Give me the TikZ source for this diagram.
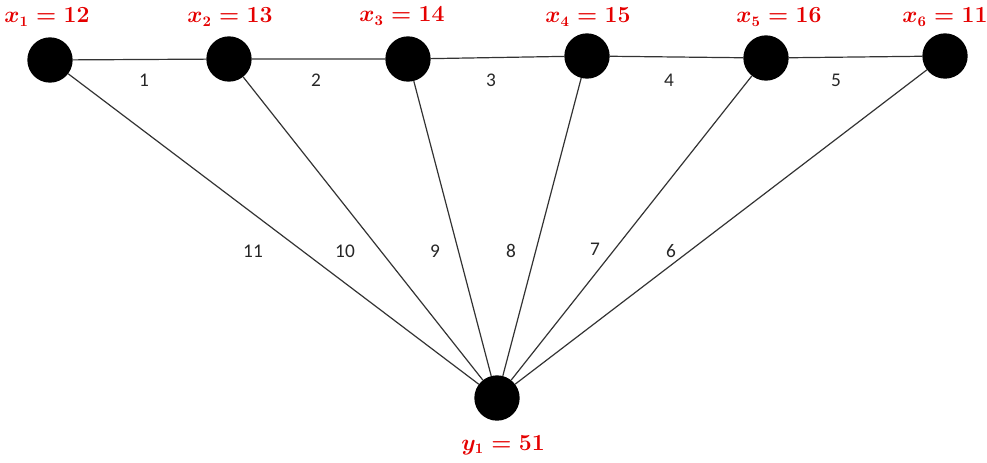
\documentclass[tikz,border=0pt]{standalone}
\usepackage{fontspec}
\newfontfamily\edgefont{Carlito}
\usetikzlibrary{positioning}

\begin{document}
\begin{tikzpicture}[x=0.75pt,y=-0.75pt,line cap=round,line join=round,
    vert/.style={circle,fill=black,inner sep=0pt,minimum size=34pt},
    vlabel/.style={text=red!90!black,font=\fontsize{16}{18}\selectfont\boldmath},
    elabel/.style={text=black!85,font=\edgefont\fontsize{14.5}{16}\selectfont},
    edge/.style={draw=black!80,line width=0.9pt}]
  \useasboundingbox (0,0) rectangle (987,462);
  % vertices
  \node[vert] (x1) at (50,60) {};
  \node[vert] (x2) at (229,59) {};
  \node[vert] (x3) at (408,59) {};
  \node[vert] (x4) at (587,56) {};
  \node[vert] (x5) at (766,58) {};
  \node[vert] (x6) at (945,56) {};
  \node[vert] (y1) at (497,398) {};
  % vertex labels
  \node[vlabel] (lx1) at (47,17) {$x_1=12$};
  \node[vlabel] (lx2) at (230,17) {$x_2=13$};
  \node[vlabel] (lx3) at (402,16) {$x_3=14$};
  \node[vlabel] (lx4) at (588,17) {$x_4=15$};
  \node[vlabel] (lx5) at (779,17) {$x_5=16$};
  \node[vlabel] (lx6) at (945,17) {$x_6=11$};
  \node[vlabel] (ly1) at (503,445) {$y_1=51$};
  % edges
  \draw[edge] (x1) -- (x2) -- (x3) -- (x4) -- (x5) -- (x6);
  \foreach \v in {x1,x2,x3,x4,x5,x6}
    \draw[edge] (\v) -- (y1);
  % edge labels
  \node[elabel] (e1) at (144,80) {1};
  \node[elabel] (e2) at (316,80) {2};
  \node[elabel] (e3) at (491,80) {3};
  \node[elabel] (e4) at (669,80) {4};
  \node[elabel] (e5) at (836,80) {5};
  \node[elabel] (e6) at (671,251) {6};
  \node[elabel] (e7) at (595,249) {7};
  \node[elabel] (e8) at (511,251) {8};
  \node[elabel] (e9) at (435,251) {9};
  \node[elabel] (e10) at (345,251) {10};
  \node[elabel] (e11) at (253,251) {11};
\end{tikzpicture}
\end{document}
